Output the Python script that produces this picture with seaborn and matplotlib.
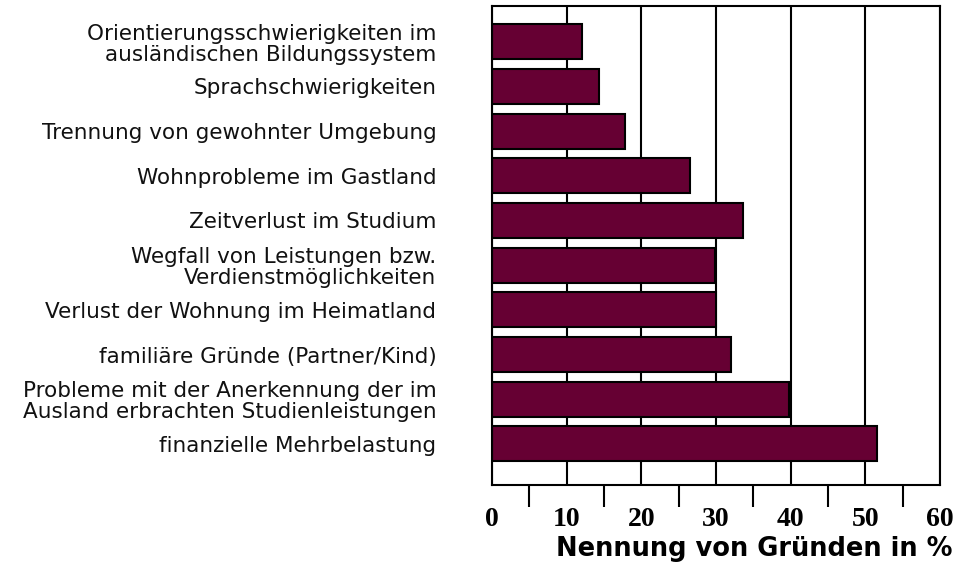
from matplotlib import pyplot as plt
import pandas as pd
import seaborn as sns

reasons = [
    "Orientierungsschwierigkeiten im\nausländischen Bildungssystem",
    "Sprachschwierigkeiten",
    "Trennung von gewohnter Umgebung",
    "Wohnprobleme im Gastland",
    "Zeitverlust im Studium",
    "Wegfall von Leistungen bzw.\nVerdienstmöglichkeiten",
    "Verlust der Wohnung im Heimatland",
    "familiäre Gründe (Partner/Kind)",
    "Probleme mit der Anerkennung der im\nAusland erbrachten Studienleistungen",
    "finanzielle Mehrbelastung",
]
percent = [12, 14.3, 17.8, 26.5, 33.6, 29.9, 30, 32, 39.8, 51.5]
x_ticks = [0, 10, 20, 30, 40, 50, 60]

df = pd.DataFrame({"reason": reasons, "percent": percent})

sns.set_style("white")
plt.rcParams["font.family"] = ["DejaVu Sans"]

fig = plt.figure(figsize=(9.55, 5.76), dpi=100)
ax = fig.add_axes([0.5152, 0.158, 0.4691, 0.8316])

sns.barplot(data=df, x="percent", y="reason", orient="h", color="#660033",
            saturation=1, width=0.78, edgecolor="black", linewidth=1.5, ax=ax)

ax.set_xlim(0, 60)
ax.set_ylim(9.92, -0.8)

# major ticks only carry labels + grid, minor ticks are the visible marks
ax.set_xticks(x_ticks)
ax.set_xticklabels([str(t) for t in x_ticks], family="Liberation Serif",
                   fontweight="bold", fontsize=20, color="black")
ax.set_xticks([t for t in range(5, 60, 5)], minor=True)
ax.tick_params(axis="x", which="major", length=0, pad=16)
ax.tick_params(axis="x", which="minor", length=16, width=1.5, color="black",
               direction="out", bottom=True)
ax.grid(axis="x", which="major", color="black", linewidth=1.5)
ax.set_axisbelow(True)

ax.tick_params(axis="y", length=0, pad=40)
for lbl in ax.get_yticklabels():
    lbl.set_fontsize(15.5)
    lbl.set_linespacing(1.08)
    lbl.set_color("#111111")

ax.set_ylabel("")
ax.set_xlabel("Nennung von Gründen in %", fontsize=18.5, fontweight="bold",
              ha="right", va="center", color="black")
ax.xaxis.set_label_coords(1.027, -0.133)

for s in ax.spines.values():
    s.set_visible(True)
    s.set_color("black")
    s.set_linewidth(1.5)

fig.savefig("out.png", dpi=100)
